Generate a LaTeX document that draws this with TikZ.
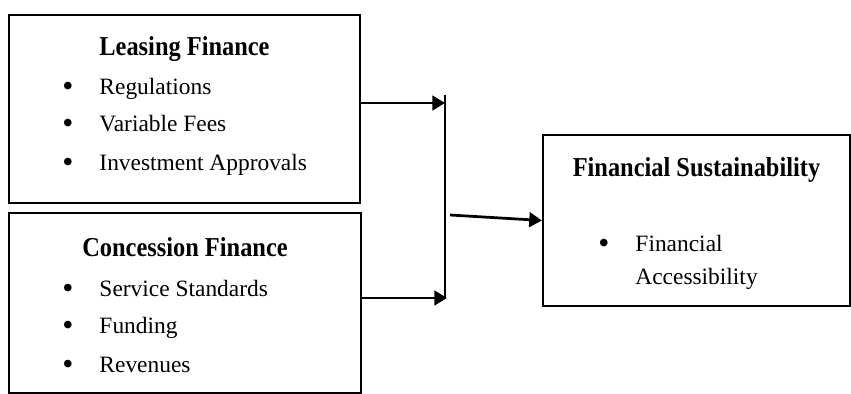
\documentclass[tikz,border=0pt]{standalone}
\usepackage{fontspec}
\setmainfont{Liberation Serif}
\usetikzlibrary{positioning, arrows.meta}

\newcommand{\bul}[1]{\makebox[19pt][l]{\raisebox{-0.7pt}{\scalebox{1.35}{\textbullet}}}#1}
\newcommand{\tallhead}[1]{\scalebox{1}[1.12]{#1}}

\begin{document}
\begin{tikzpicture}[
    x=0.018cm, y=-0.018cm,
    font=\fontsize{12}{14}\selectfont,
    box/.style={draw, line width=1pt, inner sep=0pt},
    head/.style={font=\fontsize{12.5}{14}\selectfont\bfseries, inner sep=0pt, anchor=base},
    item/.style={inner sep=0pt, anchor=base west},
    arr/.style={-{Triangle[length=6.5pt, width=7.5pt]}, line width=1.4pt},
    bar/.style={line width=0.6pt}
]
\useasboundingbox (0,0) rectangle (851,394);

% --- Left column: the two finance boxes ---
\node[box, minimum width=6.32cm, minimum height=3.38cm] (lease) at (184.5,109) {};
\node[head] (leasehead) at (184.5,56) {\tallhead{Leasing Finance}};
\node[item] (reg) at (62,95) {\bul{Regulations}};
\node[item] (fees) at (62,132) {\bul{Variable Fees}};
\node[item] (invest) at (62,171) {\bul{Investment Approvals}};

\node[box, minimum width=6.34cm, minimum height=3.24cm] (conc) at (185,303) {};
\node[head] (conchead) at (185,257) {\tallhead{Concession Finance}};
\node[item] (service) at (62,297) {\bul{Service Standards}};
\node[item] (funding) at (62,334) {\bul{Funding}};
\node[item] (revenue) at (62,373) {\bul{Revenues}};

% --- Right: outcome box ---
\node[box, minimum width=5.53cm, minimum height=3.08cm] (fin) at (696.5,220.5) {};
\node[head] (finhead) at (696.5,177) {\tallhead{Financial Sustainability}};
\node[item] (access) at (598,252) {\bul{Financial}};
\node[item] (accessb) at (635,285) {Accessibility};

% --- Joining bar ---
\coordinate (bartop) at (445,95);
\coordinate (barbot) at (445,297);
\coordinate (hitA) at (445,103);
\coordinate (hitB) at (447,298);
\coordinate (outC) at (450,215);

% --- Arrows ---
\draw[bar] (bartop) -- (barbot);
\draw[arr] (lease.east |- hitA) -- (hitA);
\draw[arr] (conc.east |- hitB) -- (hitB);
\draw[arr] (outC) -- (fin.west);

\end{tikzpicture}
\end{document}
